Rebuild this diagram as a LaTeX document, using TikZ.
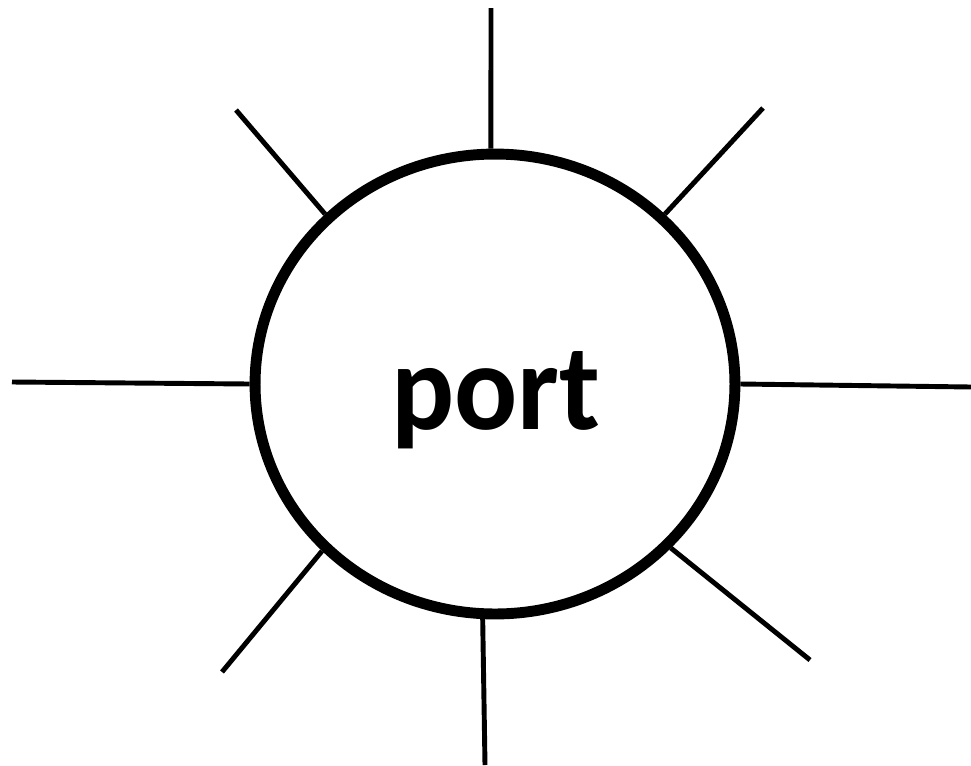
\documentclass[tikz,border=0pt]{standalone}
\usepackage{fontspec}
\setmainfont{Carlito}
\usetikzlibrary{shapes.geometric}

\tikzstyle{portring} = [ellipse, draw, line width=6.2pt, minimum width=9.6cm, minimum height=9.2cm, inner sep=0pt]
\tikzstyle{spoke} = [line width=2.8pt]
\tikzstyle{portname} = [font=\fontsize{67}{80}\selectfont\bfseries, inner sep=0pt, yscale=1.05]

\begin{document}
\begin{tikzpicture}[x=0.02cm,y=-0.02cm]
\useasboundingbox (0,0) rectangle (971,765);
\node[portring] (port) at (495,384) {};
\node[portname] (name) at (496,400) {port};
\coordinate (n) at (491,8);
\coordinate (ne) at (763,108);
\coordinate (e) at (971,387);
\coordinate (se) at (810,660);
\coordinate (s) at (485,765);
\coordinate (sw) at (222,672);
\coordinate (w) at (12,382);
\coordinate (nw) at (236,110);
\draw[spoke] (port.91) -- (n);
\draw[spoke] (port.45.3) -- (ne);
\draw[spoke] (port.0) -- (e);
\draw[spoke] (port.-43.5) -- (se);
\draw[spoke] (port.267.6) -- (s);
\draw[spoke] (port.224) -- (sw);
\draw[spoke] (port.180) -- (w);
\draw[spoke] (port.135.8) -- (nw);
\end{tikzpicture}
\end{document}
